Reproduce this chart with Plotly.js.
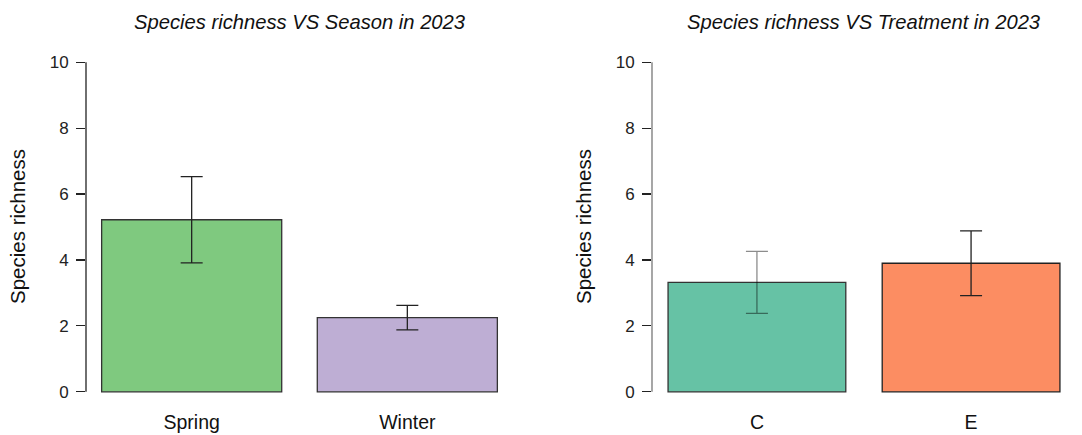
<!DOCTYPE html>
<html>
<head>
<meta charset="utf-8">
<script src="https://cdn.plot.ly/plotly-3.0.1.min.js"></script>
<style>
  html, body { margin: 0; padding: 0; background: #fff; }
  #chart { width: 1082px; height: 435px; }
</style>
</head>
<body>
<div id="chart"></div>
<script>
// ---- data ----
const seasonCats = ["Spring", "Winter"];
const seasonMeans = [5.22, 2.25];
const seasonErr = [1.31, 0.37];
const seasonColors = ["#7FC97F", "#BEAED4"];

const treatCats = ["C", "E"];
const treatMeans = [3.32, 3.90];
const treatErr = [0.94, 0.98];
const treatColors = ["#66C2A5", "#FC8D62"];

const yTicks = [0, 2, 4, 6, 8, 10];
const titleLeft = "Species richness VS Season in 2023";
const titleRight = "Species richness VS Treatment in 2023";
const yLabel = "Species richness";

const FONT = "Liberation Sans, Arial, sans-serif";

function barTrace(cats, means, errs, colors, xa, ya, errColor) {
  return {
    type: "bar",
    x: cats, y: means,
    xaxis: xa, yaxis: ya,
    width: 0.835,
    marker: { color: colors, line: { color: "#333333", width: 1.3 } },
    error_y: { type: "data", array: errs, visible: true, color: errColor, thickness: 1.3, width: 11 },
    hoverinfo: "x+y",
    showlegend: false
  };
}

// C's error bar appears semi-transparent in the original
const traces = [
  barTrace(seasonCats, seasonMeans, seasonErr, seasonColors, "x", "y", "#222222"),
  {
    type: "bar", x: [treatCats[0]], y: [treatMeans[0]], xaxis: "x2", yaxis: "y2", width: 0.83,
    marker: { color: treatColors[0], line: { color: "#333333", width: 1.3 } },
    error_y: { type: "data", array: [treatErr[0]], visible: true, color: "rgba(0,0,0,0.45)", thickness: 1.3, width: 11 },
    showlegend: false
  },
  {
    type: "bar", x: [treatCats[1]], y: [treatMeans[1]], xaxis: "x2", yaxis: "y2", width: 0.83,
    marker: { color: treatColors[1], line: { color: "#222222", width: 1.3 } },
    error_y: { type: "data", array: [treatErr[1]], visible: true, color: "#222222", thickness: 1.3, width: 11 },
    showlegend: false
  }
];

function yAxis(anchor) {
  return {
    anchor: anchor,
    range: [-0.4, 10.4],
    tickvals: yTicks,
    ticktext: yTicks.map(String),
    ticks: "outside", ticklen: 9, tickwidth: 1.2, tickcolor: "#222",
    ticklabelstandoff: 4,
    showline: false, showgrid: false, zeroline: false,
    tickfont: { family: FONT, size: 17, color: "#222" },
    fixedrange: true
  };
}
function xAxis(domain, anchor, cats) {
  return {
    domain: domain, anchor: anchor,
    type: "category",
    categoryorder: "array", categoryarray: cats,
    range: [-0.49, 1.49],
    showline: false, showgrid: false, zeroline: false, ticks: "",
    tickfont: { family: FONT, size: 19.5, color: "#111" },
    ticklabelstandoff: 3,
    fixedrange: true
  };
}

const layout = {
  width: 1082, height: 435,
  margin: { l: 0, r: 0, t: 49, b: 30 },
  paper_bgcolor: "#ffffff", plot_bgcolor: "#ffffff",
  bargap: 0.1,
  xaxis: xAxis([86/1082, 513/1082], "y", seasonCats),
  yaxis: yAxis("x"),
  xaxis2: xAxis([652/1082, 1076/1082], "y2", treatCats),
  yaxis2: yAxis("x2"),
  shapes: [
    { type: "line", xref: "x domain", yref: "y", x0: 0, x1: 0, y0: 0, y1: 10, line: { color: "#222", width: 1.3 } },
    { type: "line", xref: "x2 domain", yref: "y2", x0: 0, x1: 0, y0: 0, y1: 10, line: { color: "#777", width: 1.3 } }
  ],
  annotations: [
    { text: "<i>" + titleLeft + "</i>", xref: "x domain", yref: "paper", x: 0.5, y: 1, yshift: 27, yanchor: "middle", xanchor: "center",
      showarrow: false, font: { family: FONT, size: 20.2, color: "#111" } },
    { text: "<i>" + titleRight + "</i>", xref: "x2 domain", yref: "paper", x: 0.5, y: 1, yshift: 27, yanchor: "middle", xanchor: "center",
      showarrow: false, font: { family: FONT, size: 20.2, color: "#111" } },
    { text: yLabel, xref: "x domain", yref: "y domain", x: 0, y: 0.5, xshift: -69, xanchor: "center", yanchor: "middle", textangle: -90,
      showarrow: false, font: { family: FONT, size: 20.5, color: "#111" } },
    { text: yLabel, xref: "x2 domain", yref: "y2 domain", x: 0, y: 0.5, xshift: -69, xanchor: "center", yanchor: "middle", textangle: -90,
      showarrow: false, font: { family: FONT, size: 20.5, color: "#111" } }
  ]
};

Plotly.newPlot("chart", traces, layout, { displayModeBar: false, staticPlot: true });
</script>
</body>
</html>
